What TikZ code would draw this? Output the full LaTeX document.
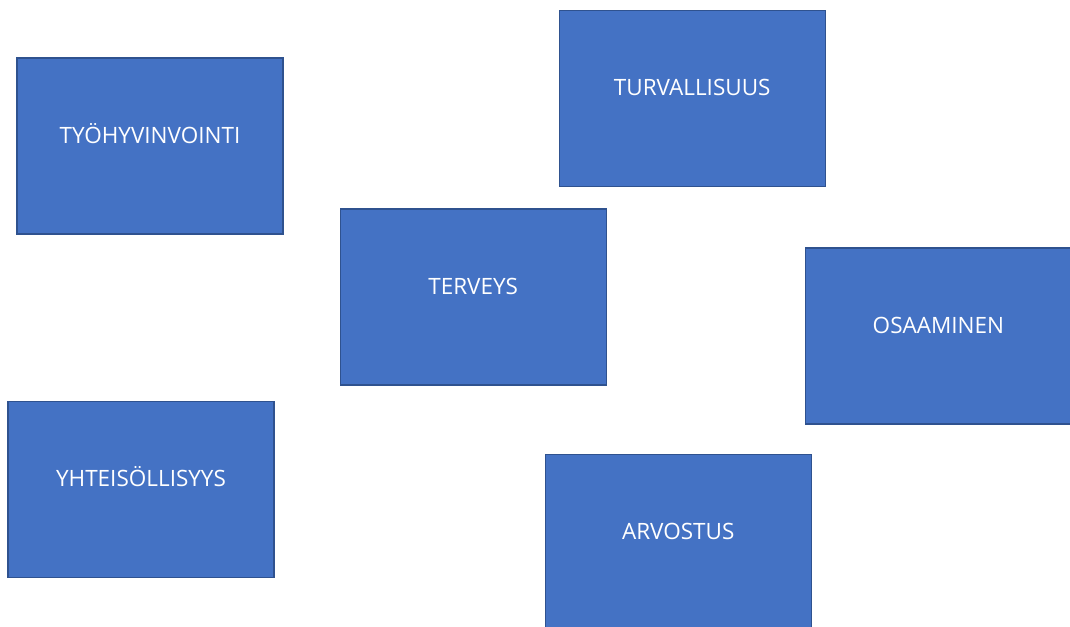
\documentclass[tikz,border=0pt]{standalone}
\usepackage{fontspec}
\setmainfont{Open Sans}
\usepackage{xcolor}
\usepackage{tikz}
\usetikzlibrary{positioning}

\definecolor{boxfill}{HTML}{4472C4}
\definecolor{boxline}{HTML}{2F528F}

\begin{document}
\begin{tikzpicture}[
x=1pt,y=1pt,
box/.style={draw=boxline,line width=1.2pt,fill=boxfill,text=white,minimum width=266pt,minimum height=176pt,
  text height=16pt,text depth=22pt,font=\fontsize{22.5}{26}\selectfont},
]
\useasboundingbox (0,0) rectangle (1070,-626);
\clip (0,0) rectangle (1070,-626);
\node[box] at (150,-146) (tyo) {TYÖHYVINVOINTI};
\node[box,right=56pt of tyo,yshift=-151pt] (terveys) {TERVEYS};
\node[box,above=21pt of terveys,xshift=219pt] (turva) {TURVALLISUUS};
\node[box,right=198pt of terveys,yshift=-39pt] (osaaminen) {OSAAMINEN};
\node[box,below=166pt of tyo,xshift=-9pt] (yhteis) {YHTEISÖLLISYYS};
\node[box,below=68pt of terveys,xshift=205pt] (arvostus) {ARVOSTUS};
\end{tikzpicture}
\end{document}
